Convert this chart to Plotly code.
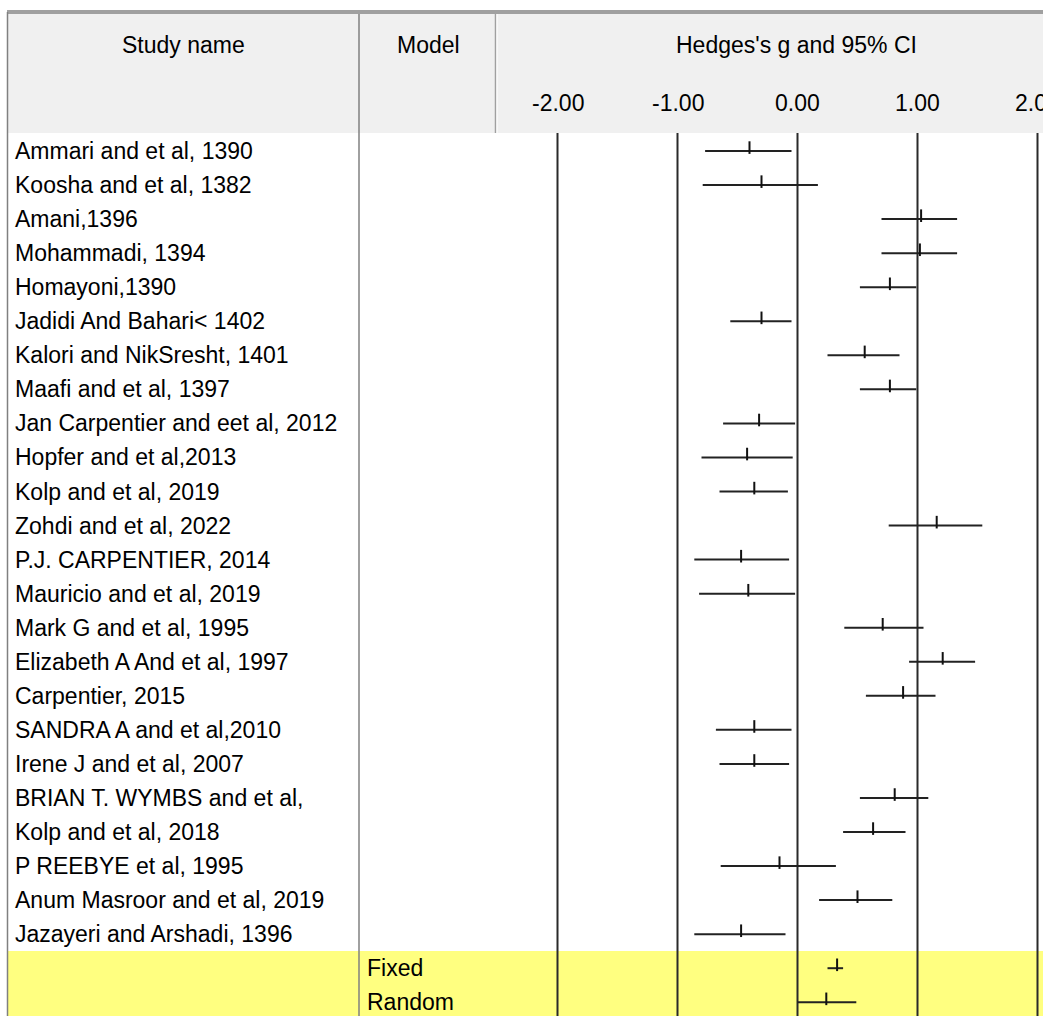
import plotly.graph_objects as go

W, H = 1043, 1016
OFF = 0  # body margin removed via post_script

studies = [
    "Ammari and et al, 1390", "Koosha and et al, 1382", "Amani,1396", "Mohammadi, 1394",
    "Homayoni,1390", "Jadidi And Bahari< 1402", "Kalori and NikSresht, 1401", "Maafi and et al, 1397",
    "Jan Carpentier and eet al, 2012", "Hopfer and et al,2013", "Kolp and et al, 2019", "Zohdi and et al, 2022",
    "P.J. CARPENTIER, 2014", "Mauricio and et al, 2019", "Mark G and et al, 1995", "Elizabeth A And et al, 1997",
    "Carpentier, 2015", "SANDRA A and et al,2010", "Irene J and et al, 2007", "BRIAN T. WYMBS and et al,",
    "Kolp and et al, 2018", "P REEBYE et al, 1995", "Anum Masroor and et al, 2019", "Jazayeri and Arshadi, 1396",
]
g = [-0.40, -0.30, 1.03, 1.02, 0.77, -0.30, 0.56, 0.77, -0.32, -0.42, -0.36, 1.16,
     -0.47, -0.41, 0.71, 1.21, 0.88, -0.36, -0.36, 0.81, 0.63, -0.15, 0.50, -0.47]
lower = [-0.77, -0.79, 0.70, 0.70, 0.52, -0.56, 0.25, 0.52, -0.62, -0.80, -0.65, 0.76,
         -0.86, -0.82, 0.39, 0.93, 0.57, -0.68, -0.65, 0.52, 0.38, -0.64, 0.18, -0.86]
upper = [-0.05, 0.17, 1.33, 1.33, 0.99, -0.05, 0.85, 0.99, -0.02, -0.04, -0.08, 1.54,
         -0.07, -0.02, 1.05, 1.48, 1.15, -0.05, -0.07, 1.09, 0.90, 0.32, 0.79, -0.10]

models = ["Fixed", "Random"]
model_g = [0.33, 0.24]
model_lower = [0.25, 0.00]
model_upper = [0.38, 0.49]

ticks = [-2, -1, 0, 1, 2]
tick_labels = ["-2.00", "-1.00", "0.00", "1.00", "2.00"]

# pixel mapping helpers (layout only), in page pixels
X0_PX, X_UNIT = 797.5, 120.0
ROW0_PX, ROW_STEP = 151.0, 34.05


def px(x):
    return (x - OFF) / W


def py(y):
    return 1 - (y - OFF) / H


FONT = "Liberation Sans"
FS = 23

fig = go.Figure()

rows = list(range(1, len(studies) + 1))
mrows = [len(studies) + 1 + i for i in range(len(models))]

all_rows = rows + mrows
all_g = g + model_g
all_lo = lower + model_lower
all_hi = upper + model_upper

# CI lines
xs, ys = [], []
for r, lo, hi in zip(all_rows, all_lo, all_hi):
    xs += [lo, hi, None]
    ys += [r, r, None]
fig.add_trace(go.Scatter(x=xs, y=ys, mode="lines", line=dict(color="#222222", width=2),
                         hoverinfo="skip", showlegend=False))
# point estimates
fig.add_trace(go.Scatter(x=all_g, y=[r - 0.1 for r in all_rows], mode="markers",
                         marker=dict(symbol="line-ns", size=9, line=dict(color="#111111", width=2)),
                         showlegend=False, hoverinfo="skip"))

shapes = []
# header background
shapes.append(dict(type="rect", xref="paper", yref="paper", x0=px(7), x1=1, y0=py(133), y1=py(14),
                   fillcolor="#f0f0f0", line=dict(width=0), layer="below"))
# yellow summary band
shapes.append(dict(type="rect", xref="paper", yref="paper", x0=px(7), x1=1, y0=0, y1=py(951),
                   fillcolor="#ffff80", line=dict(width=0), layer="below"))
# top border
shapes.append(dict(type="rect", xref="paper", yref="paper", x0=px(7), x1=1, y0=py(14), y1=py(10),
                   fillcolor="#a0a0a0", line=dict(width=0), layer="above"))
# left border
shapes.append(dict(type="line", xref="paper", yref="paper", x0=px(7.5), x1=px(7.5), y0=0, y1=py(12),
                   line=dict(color="#808080", width=1.5), layer="above"))
# column divider study/model
shapes.append(dict(type="line", xref="paper", yref="paper", x0=px(359), x1=px(359), y0=0, y1=py(14),
                   line=dict(color="#808080", width=1.5), layer="above"))
# header divider model/plot
shapes.append(dict(type="line", xref="paper", yref="paper", x0=px(495.5), x1=px(495.5), y0=py(133), y1=py(14),
                   line=dict(color="#a0a0a0", width=1.5), layer="above"))
shapes.append(dict(type="line", xref="paper", yref="paper", x0=px(497), x1=px(497), y0=py(133), y1=py(14),
                   line=dict(color="#ffffff", width=1), layer="above"))
# vertical grid lines
for t in ticks:
    shapes.append(dict(type="line", xref="x", yref="paper", x0=t, x1=t, y0=0, y1=py(133),
                       line=dict(color="#2a2a2a", width=2), layer="below"))

annotations = []
annotations.append(dict(text="Study name", x=px(183), y=py(45), xref="paper", yref="paper",
                        showarrow=False, xanchor="center", yanchor="middle"))
annotations.append(dict(text="Model", x=px(428), y=py(45), xref="paper", yref="paper",
                        showarrow=False, xanchor="center", yanchor="middle"))
annotations.append(dict(text="Hedges's g and 95% CI", x=px(796), y=py(45), xref="paper", yref="paper",
                        showarrow=False, xanchor="center", yanchor="middle"))
for t, lab in zip(ticks, tick_labels):
    annotations.append(dict(text=lab, x=t, y=py(103), xref="x", yref="paper",
                            showarrow=False, xanchor="center", yanchor="middle"))
for r, name in zip(rows, studies):
    annotations.append(dict(text=name, x=px(13), y=r, xref="paper", yref="y",
                            showarrow=False, xanchor="left", yanchor="middle"))
for r, name in zip(mrows, models):
    annotations.append(dict(text=name, x=px(365), y=r, xref="paper", yref="y",
                            showarrow=False, xanchor="left", yanchor="middle"))

fig.update_layout(
    width=W, height=H,
    margin=dict(l=0, r=0, t=0, b=0),
    paper_bgcolor="white", plot_bgcolor="white",
    font=dict(family=FONT, size=FS, color="#000000"),
    xaxis=dict(domain=[0, 1], range=[(OFF - X0_PX) / X_UNIT, (W + OFF - X0_PX) / X_UNIT],
               visible=False, fixedrange=True),
    yaxis=dict(domain=[0, 1], range=[1 + (H + OFF - ROW0_PX) / ROW_STEP, 1 - (ROW0_PX - OFF) / ROW_STEP],
               visible=False, fixedrange=True),
    shapes=shapes,
    annotations=annotations,
    showlegend=False,
)

fig.write_html("out.html", config={"displayModeBar": False},
               post_script="document.body.style.margin='0';document.body.style.overflow='hidden';")
